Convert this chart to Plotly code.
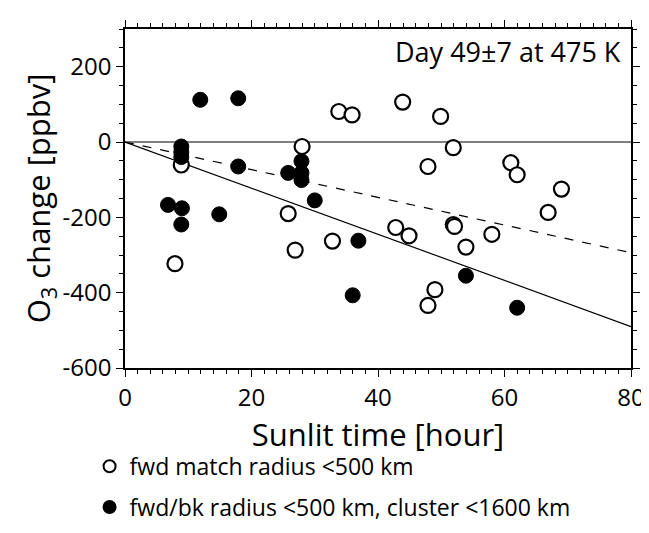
import plotly.graph_objects as go

open_x = [8.9, 7.9, 28, 33.8, 35.9, 25.8, 26.9, 32.8, 43.9, 49.9, 51.9, 47.9, 42.8, 44.9,
          51.9, 52.1, 53.9, 58, 49, 47.9, 61, 62, 69, 66.9]
open_y = [-61, -323, -12, 81, 72, -190, -287, -263, 106, 68, -15, -65, -227, -249,
          -219, -224, -279, -245, -392, -434, -55, -87, -125, -187]
fill_x = [11.9, 17.9, 8.9, 8.9, 8.9, 17.9, 6.8, 9, 8.9, 14.9, 25.8, 27.9, 27.9, 27.9,
          30, 36.9, 36, 53.9, 62]
fill_y = [112, 116, -12, -27, -40, -65, -167, -176, -219, -192, -82, -51, -82, -101,
          -155, -262, -407, -355, -440]
fit_x = [0, 80]
fit_solid = [0, -490]
fit_dash = [0, -294]
y_ticks = [-600, -400, -200, 0, 200]
y_labels = ["-600", "-400", "-200", "0", "200"]

fig = go.Figure()
fig.add_trace(go.Scatter(x=fit_x, y=[0, 0], mode="lines", line=dict(color="black", width=1.2),
                         showlegend=False))
fig.add_trace(go.Scatter(x=fit_x, y=fit_solid, mode="lines", line=dict(color="black", width=1.2),
                         showlegend=False))
fig.add_trace(go.Scatter(x=fit_x, y=fit_dash, mode="lines",
                         line=dict(color="black", width=1.2, dash="dash"), showlegend=False))
fig.add_trace(go.Scatter(x=open_x, y=open_y, mode="markers", name="fwd match radius <500 km",
                         legend="legend",
                         marker=dict(size=15, color="white", line=dict(color="black", width=2.2))))
fig.add_trace(go.Scatter(x=fill_x, y=fill_y, mode="markers",
                         name="fwd/bk radius <500 km, cluster <1600 km", legend="legend2",
                         marker=dict(size=15, color="black", line=dict(color="black", width=1))))

fig.add_annotation(x=0.985, y=0.935, xref="paper", yref="paper", text="Day 49±7 at 475 K",
                   showarrow=False, xanchor="right", yanchor="middle",
                   font=dict(size=27, color="black"))

axis_common = dict(showline=True, linecolor="black", linewidth=1.5, mirror="allticks",
                   ticks="outside", ticklen=7, tickwidth=1.2, tickcolor="black",
                   showgrid=False, zeroline=False, tickfont=dict(size=24, color="black"))
fig.update_xaxes(range=[0, 80], dtick=20, title=dict(text="Sunlit time [hour]", font=dict(size=31), standoff=0),
                 minor=dict(ticks="outside", ticklen=4, dtick=2, tickcolor="black"), **axis_common)
fig.update_yaxes(range=[-600, 300], tickvals=y_ticks, ticktext=y_labels,
                 title=dict(text="O<sub>3</sub> change [ppbv]", font=dict(size=31), standoff=0),
                 minor=dict(ticks="outside", ticklen=4, dtick=50, tickcolor="black"), **axis_common)

leg = dict(xanchor="left", yanchor="middle", font=dict(size=23), itemsizing="constant",
           bgcolor="rgba(0,0,0,0)")
fig.update_layout(
    width=649, height=533,
    margin=dict(l=117, r=24, t=19, b=158),
    plot_bgcolor="white", paper_bgcolor="white",
    font=dict(family="Open Sans", color="black"),
    legend=dict(x=-0.07, y=-0.29, **leg),
    legend2=dict(x=-0.07, y=-0.41, **leg),
)
fig.write_html("out.html")
